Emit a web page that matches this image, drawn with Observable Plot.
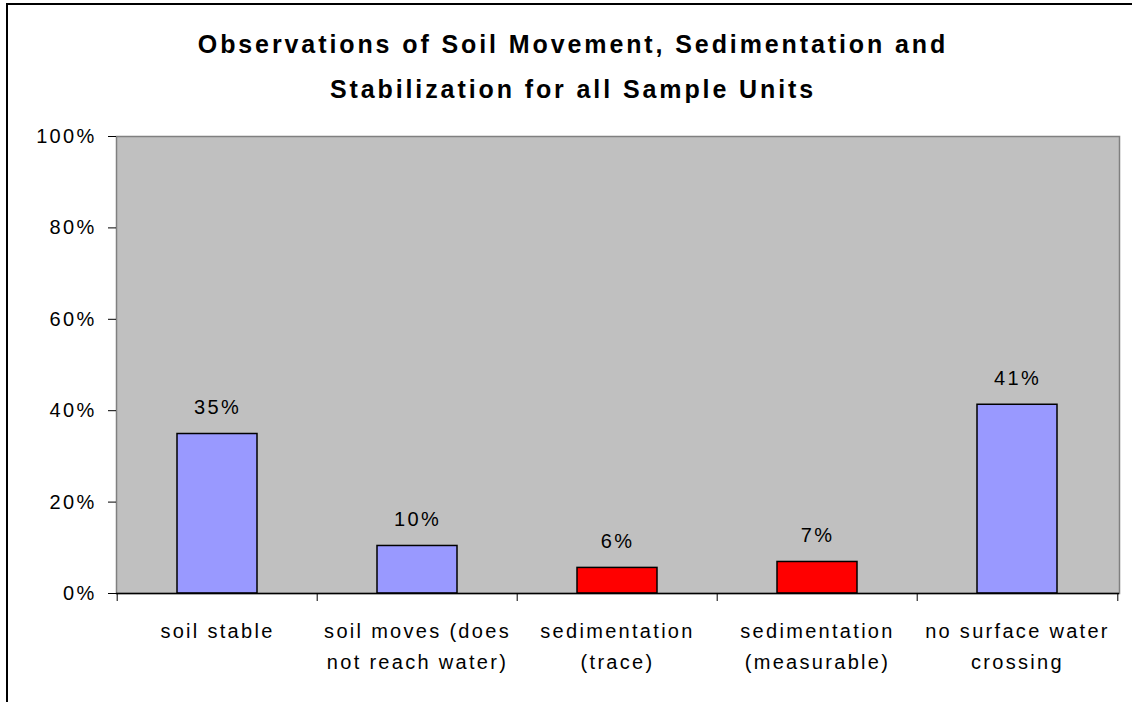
<!DOCTYPE html>
<html><head><meta charset="utf-8">
<script src="https://cdn.jsdelivr.net/npm/d3@7"></script>
<script src="https://cdn.jsdelivr.net/npm/@observablehq/plot@0.6"></script>
<style>
html,body{margin:0;padding:0;background:#fff;overflow:hidden;width:1132px;height:702px;}
#frame{position:absolute;left:6px;top:3px;width:1200px;height:800px;border:2px solid #000;z-index:2;pointer-events:none;}
#title{height:90px;padding-top:22px;text-align:center;width:1146px;font-family:"Liberation Sans",Arial,sans-serif;font-weight:bold;font-size:25px;line-height:45px;letter-spacing:2.9px;color:#000;}
</style></head><body>
<div id="frame"></div>
<div id="chart"><div id="title">Observations of Soil Movement, Sedimentation and<br>Stabilization for all Sample Units</div></div>
<script>
const categories = ["soil stable", "soil moves", "sedimentation (trace)", "sedimentation (measurable)", "no surface water crossing"];
const tickLabels = ["soil stable", "soil moves (does\nnot reach water)", "sedimentation\n(trace)", "sedimentation\n(measurable)", "no surface water\ncrossing"];
const values = [0.349, 0.104, 0.056, 0.069, 0.413];
const kinds = ["no sediment", "no sediment", "sediment", "sediment", "no sediment"];
const yTicks = [0, 0.2, 0.4, 0.6, 0.8, 1];

const fmt = d3.format(".0%");
const W = 1132, H = 590, ML = 116, MR = 13, MT = 24, MB = 109;
const step = (W - ML - MR) / categories.length;
const data = categories.map((c, i) => ({category: c, value: values[i], kind: kinds[i]}));

const plot = Plot.plot({
  width: W, height: H, marginLeft: ML, marginRight: MR, marginTop: MT, marginBottom: MB,
  style: {fontFamily: "'Liberation Sans', Arial, sans-serif", fontSize: "20px", color: "#000", background: "transparent", letterSpacing: "2.3px", overflow: "visible"},
  x: {domain: categories, paddingInner: 0.6, paddingOuter: 0.3},
  y: {domain: [0, 1]},
  color: {domain: ["no sediment", "sediment"], range: ["#9999ff", "#ff0000"]},
  marks: [
    Plot.frame({fill: "#c0c0c0", stroke: "#808080", strokeWidth: 1.5}),
    Plot.barY(data, {x: "category", y: "value", fill: "kind", stroke: "#000", strokeWidth: 1.5}),
    Plot.text(data, {x: "category", y: "value", text: d => fmt(d.value), dy: -20, lineAnchor: "bottom", fontSize: 20}),
    Plot.ruleY([0], {stroke: "#000", strokeWidth: 1.5}),
    Plot.axisY({ticks: yTicks, tickFormat: fmt, tickSize: 8, tickPadding: 12, label: null}),
    Plot.axisX({tickSize: 0, tickPadding: 22, tickFormat: d => tickLabels[categories.indexOf(d)], lineHeight: 1.575, label: null}),
    Plot.axisX({tickSize: 8, tickFormat: () => "", dx: -step / 2, label: null}),
    Plot.axisX({ticks: [categories[categories.length - 1]], tickSize: 8, tickFormat: () => "", dx: step / 2, label: null})
  ]
});
document.getElementById("chart").appendChild(plot);
</script>
</body></html>
